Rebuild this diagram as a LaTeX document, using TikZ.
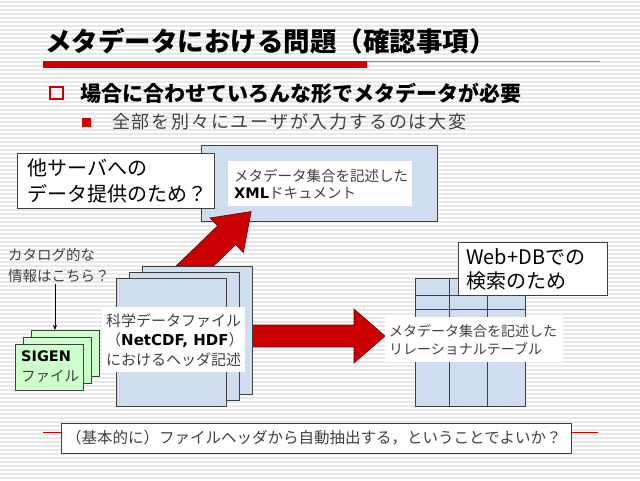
\documentclass[tikz,border=0pt]{standalone}
\usepackage{fontspec}
\setmainfont{Noto Sans CJK JP}
\newfontfamily\latinfont{DejaVu Sans}
\usepackage{xcolor}
\usetikzlibrary{arrows.meta, positioning}

\definecolor{slidered}{RGB}{204,0,0}
\definecolor{linered}{RGB}{228,96,96}
\definecolor{boxblue}{RGB}{207,222,238}
\definecolor{boxgreen}{RGB}{204,255,204}
\definecolor{stripegray}{RGB}{232,232,232}
\definecolor{textgray}{RGB}{64,64,64}

\begin{document}
\begin{tikzpicture}[x=1pt, y=-1pt,
    stripe/.style={draw=stripegray, line width=2pt},
    page/.style={fill=boxblue, draw=black!75, line width=0.8pt, inner sep=0pt, anchor=north west},
    greenpage/.style={fill=boxgreen, draw=black!75, line width=0.8pt, inner sep=0pt, anchor=north west},
    whitepatch/.style={fill=white, inner sep=0pt, anchor=north west},
    framebox/.style={fill=white, draw=black!75, line width=0.8pt, inner sep=0pt, anchor=north west},
    txt/.style={anchor=west, align=left, inner sep=0pt},
    bigarrow/.style={fill=slidered, draw=red!40!black, line width=0.6pt},
    catarrow/.style={-{Stealth[length=5pt, width=4pt]}, line width=0.6pt}
  ]
  \useasboundingbox (0,0) rectangle (640,480);
  % striped background
  \fill[white] (0,0) rectangle (640,480);
  \foreach \y in {2,6,...,478}
    \draw[stripe] (0,\y) -- (640,\y);

  % title and rule
  \node[txt, font=\fontsize{26.5}{30}\selectfont\bfseries] (title) at (45,41) {メタデータにおける問題（確認事項）};
  \fill[slidered] (43,61) rectangle (367,68);
  \draw[linered, line width=1.2pt] (367,61.5) -- (600,61.5);

  % bullets
  \draw[slidered, line width=1.8pt] (50,87) rectangle (63,99);
  \node[txt, font=\fontsize{21}{25}\selectfont\bfseries] (need) at (80,93) {場合に合わせていろんな形でメタデータが必要};
  \fill[slidered] (82,118) rectangle (91,127);
  \node[txt, text=textgray, font=\fontsize{18}{22}\selectfont\addfontfeatures{LetterSpace=10}] (manual) at (112,122) {全部を別々にユーザが入力するのは大変};

  % XML document
  \node[page, minimum width=236pt, minimum height=76pt] (xmldoc) at (201,145) {};
  \node[whitepatch, minimum width=184pt, minimum height=45pt] (xmlbox) at (228,161) {};
  \node[txt, text=textgray, font=\fontsize{14.5}{17}\selectfont] (xmltext) at (234,184) {メタデータ集合を記述した\\{\color{black}\latinfont\bfseries XML}ドキュメント};

  % other servers
  \node[framebox, minimum width=197pt, minimum height=55pt] (serverbox) at (17,153) {};
  \node[txt, font=\fontsize{20}{26}\selectfont] (servertext) at (27,181) {他サーバへの\\データ提供のため？};

  % big arrows, behind the file stack
  \begin{scope}[shift={(172,288)}, rotate=44]
    \draw[bigarrow] (0,-13) -- (76,-13) -- (76,-24) -- (110,0) -- (76,24) -- (76,13) -- (0,13) -- cycle;
  \end{scope}
  \draw[bigarrow] (240,325) -- (354,325) -- (354,309) -- (385,336) -- (354,363) -- (354,347) -- (240,347) -- cycle;

  % scientific data files
  \foreach \n/\dx/\dy in {A/26/12, B/13/6, C/0/0}
    \node[page, minimum width=110pt, minimum height=128pt] (file\n) at (116+\dx,278-\dy) {};
  \node[whitepatch, minimum width=143pt, minimum height=65pt] (filebox) at (102,307) {};
  \node[txt, text=textgray, font=\fontsize{15}{19.5}\selectfont] (filetext) at (106,340) {科学データファイル\\（{\color{black}\latinfont\bfseries NetCDF, HDF}）\\におけるヘッダ記述};

  % SIGEN files
  \foreach \n/\dx/\dy in {A/16/14, B/8/7, C/0/0}
    \node[greenpage, minimum width=68pt, minimum height=46pt] (sigen\n) at (15+\dx,344-\dy) {};
  \node[txt, font=\fontsize{14.5}{20}\selectfont] (sigentext) at (21,367) {{\latinfont\bfseries SIGEN}\\{\color{textgray}ファイル}};

  % catalog note
  \node[anchor=west, align=left, inner sep=2pt, text=textgray, font=\fontsize{14.5}{21}\selectfont] (catalog) at (6,265) {カタログ的な\\情報はこちら？};
  \draw[catarrow] ([xshift=-4pt]catalog.south) -- ([xshift=-4pt]catalog.south |- sigenA.north);

  % relational table
  \node[page, minimum width=110pt, minimum height=128pt] (table) at (415,278) {};
  \draw[black!75, line width=0.8pt] (449,278) -- (449,406) (487,278) -- (487,406)
    (415,295) -- (525,295) (415,309) -- (525,309);
  \node[whitepatch, minimum width=178pt, minimum height=45pt] (tablebox) at (385,317) {};
  \node[txt, text=textgray, font=\fontsize{14}{18}\selectfont] (tabletext) at (389,340) {メタデータ集合を記述した\\リレーショナルテーブル};

  % Web+DB
  \node[framebox, minimum width=149pt, minimum height=53pt] (webbox) at (458,242) {};
  \node[txt, font=\fontsize{20}{24}\selectfont] (webtext) at (466,269) {Web+DBでの\\検索のため};

  % bottom question
  \node[framebox, minimum width=510pt, minimum height=30pt] (question) at (61,423) {};
  \draw[slidered, line width=1pt] (43,432) -- (question.west |- 0,432) (question.east |- 0,432) -- (598,432);
  \node[txt, text=textgray, font=\fontsize{15.5}{18}\selectfont] (questiontext) at (66,438) {（基本的に）ファイルヘッダから自動抽出する，ということでよいか？};
\end{tikzpicture}
\end{document}
